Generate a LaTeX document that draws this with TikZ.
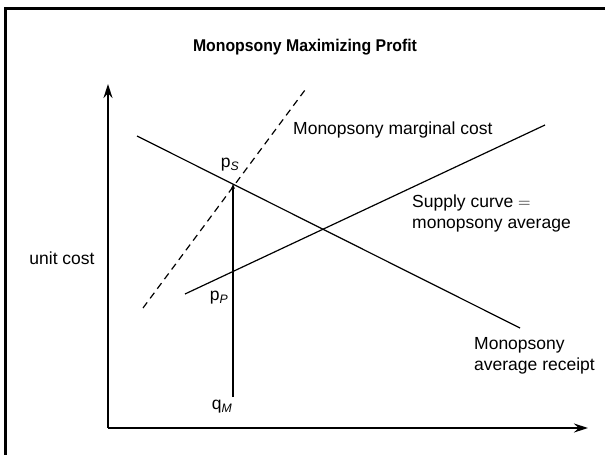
\documentclass[tikz,border=0pt]{standalone}
\usepackage{fontspec}
\setmainfont{Liberation Sans}
\newfontfamily\headfont{Liberation Sans}[FakeStretch=0.93]
\usetikzlibrary{arrows.meta,positioning,calc}

\begin{document}
\begin{tikzpicture}[
    x=1pt, y=-1pt,
    >={Stealth[length=14pt,width=9pt]},
    axis/.style={line width=1.3pt, ->},
    curve/.style={line width=1.2pt},
    tag/.style={font=\fontsize{17.5}{21}\selectfont, inner sep=0pt, align=left},
    headline/.style={font=\headfont\bfseries\fontsize{17}{20}\selectfont, inner sep=0pt}
]
\useasboundingbox (0,0) rectangle (605,455);
\draw[line width=3pt] (5,455) |- (605,8.5);
\node[headline] (head) at (305,47) {Monopsony Maximizing Profit};
\coordinate (origin) at (108,428);
\coordinate (ytop) at (108,84);
\coordinate (xend) at (588,428);
\draw[axis] (origin) -- (ytop);
\draw[axis] (origin) -- (xend);
\coordinate (mclow) at (143,308);
\coordinate (mchigh) at (305,90);
\coordinate (arlow) at (137,136);
\coordinate (arhigh) at (520,328);
\coordinate (sclow) at (185,294);
\coordinate (schigh) at (545,125);
\coordinate (qbase) at (233,397);
\coordinate (ps) at (233,184);
\draw[curve, dash pattern=on 7pt off 5pt] (mclow) -- (mchigh);
\draw[curve] (arlow) -- (arhigh);
\draw[curve] (sclow) -- (schigh);
\draw[curve, -{Stealth[length=5pt,width=4pt]}] (qbase) -- (ps);
\node[tag] (pslab) at (230,165) {p\textsubscript{\itshape S}};
\node[tag] (pplab) at (219,298) {p\textsubscript{\itshape P}};
\node[tag] (qmlab) at (222,407) {q\textsubscript{\itshape M}};
\node[tag] (ylab) at (62,258) {unit cost};
\node[tag, anchor=west] (mclab) at (293,130) {Monopsony marginal cost};
\node[tag, anchor=north west] (sclab) at (412,195) {Supply curve $=$\\monopsony average};
\node[tag, anchor=north west] (arlab) at (474,337) {Monopsony\\average receipt};
\end{tikzpicture}
\end{document}
